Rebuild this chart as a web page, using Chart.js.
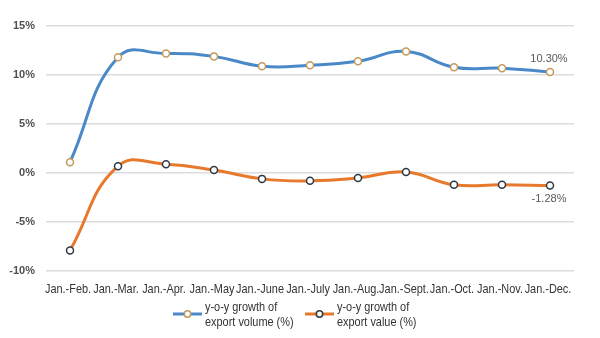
<!DOCTYPE html>
<html>
<head>
<meta charset="utf-8">
<script src="https://cdn.jsdelivr.net/npm/chart.js@4/dist/chart.umd.min.js"></script>
<style>
    html, body { margin: 0; padding: 0; background: #fff; }
    #wrap { width: 600px; height: 338px; position: relative; }
</style>
</head>
<body>
<div id="wrap"><canvas id="line-chart"></canvas></div>
<script>
const periods = ['Jan.-Feb.', 'Jan.-Mar.', 'Jan.-Apr.', 'Jan.-May', 'Jan.-June', 'Jan.-July',
    'Jan.-Aug.', 'Jan.-Sept.', 'Jan.-Oct.', 'Jan.-Nov.', 'Jan.-Dec.'];
const exportVolume = [1.1, 11.8, 12.2, 11.9, 10.9, 11.0, 11.4, 12.4, 10.8, 10.7, 10.30];
const exportValue = [-7.9, 0.7, 0.9, 0.3, -0.6, -0.8, -0.5, 0.1, -1.2, -1.2, -1.28];
const volumeLabel = ['y-o-y growth of', 'export volume (%)'];
const valueLabel = ['y-o-y growth of', 'export value (%)'];
const yTicks = [-10, -5, 0, 5, 10, 15];

const textColor = '#333333';
const font = '"Liberation Sans", Arial, sans-serif';
const squeeze = 0.84;

// no narrow face installed, so squeeze the regular one horizontally
function narrowText(ctx, text, x, y, align) {
    ctx.save();
    ctx.translate(x, y);
    ctx.scale(squeeze, 1);
    ctx.textAlign = align;
    ctx.fillText(text, 0, 0);
    ctx.restore();
}

// category names under the axis, placed at the scale's tick pixels
const categoryLabels = {
    id: 'categoryLabels',
    afterDraw(chart) {
        const ctx = chart.ctx;
        const xScale = chart.scales.x;
        ctx.save();
        ctx.font = '13px ' + font;
        ctx.fillStyle = textColor;
        ctx.textBaseline = 'middle';
        chart.data.labels.forEach((label, i) => {
            narrowText(ctx, label, xScale.getPixelForTick(i) - 2, chart.chartArea.bottom + 18, 'center');
        });
        ctx.restore();
    }
};

// last point of each series gets its value written next to it
const endLabels = {
    id: 'endLabels',
    afterDatasetsDraw(chart) {
        const ctx = chart.ctx;
        ctx.save();
        ctx.font = '11px ' + font;
        ctx.fillStyle = '#595959';
        ctx.textAlign = 'center';
        chart.data.datasets.forEach((ds, i) => {
            const meta = chart.getDatasetMeta(i);
            const last = meta.data[meta.data.length - 1];
            const v = ds.data[ds.data.length - 1];
            const above = i === 0;
            ctx.textBaseline = 'middle';
            ctx.fillText(v.toFixed(2) + '%', last.x - 1, above ? last.y - 13 : last.y + 13);
        });
        ctx.restore();
    }
};

// two-line legend entries under the axis
const bottomLegend = {
    id: 'bottomLegend',
    afterDraw(chart) {
        const ctx = chart.ctx;
        const items = [{ x: 173, ds: 0, text: volumeLabel }, { x: 305, ds: 1, text: valueLabel }];
        const y = 314;
        ctx.save();
        items.forEach(item => {
            const ds = chart.data.datasets[item.ds];
            ctx.strokeStyle = ds.borderColor;
            ctx.lineWidth = 3;
            ctx.beginPath();
            ctx.moveTo(item.x, y);
            ctx.lineTo(item.x + 29, y);
            ctx.stroke();
            ctx.fillStyle = '#fff';
            ctx.strokeStyle = ds.pointBorderColor;
            ctx.lineWidth = 1.5;
            ctx.beginPath();
            ctx.arc(item.x + 14.5, y, 3.2, 0, Math.PI * 2);
            ctx.fill();
            ctx.stroke();
            ctx.fillStyle = textColor;
            ctx.font = '13px ' + font;
            ctx.textBaseline = 'middle';
            narrowText(ctx, item.text[0], item.x + 32, y - 7, 'left');
            narrowText(ctx, item.text[1], item.x + 32, y + 8, 'left');
        });
        ctx.restore();
    }
};

new Chart(document.getElementById('line-chart'), {
    type: 'line',
    data: {
        labels: periods,
        datasets: [
            {
                label: volumeLabel.join(' '),
                data: exportVolume,
                borderColor: '#4a89c8',
                borderWidth: 3,
                tension: 0.45,
                pointRadius: 3.5,
                pointBackgroundColor: '#ffffff',
                pointBorderColor: '#c29a5c',
                pointBorderWidth: 1.5
            },
            {
                label: valueLabel.join(' '),
                data: exportValue,
                borderColor: '#e8792c',
                borderWidth: 3,
                tension: 0.45,
                pointRadius: 3.5,
                pointBackgroundColor: '#ffffff',
                pointBorderColor: '#2e3a48',
                pointBorderWidth: 1.5
            }
        ]
    },
    options: {
        responsive: true,
        maintainAspectRatio: false,
        animation: false,
        layout: { padding: { top: 26, right: 26, bottom: 0, left: 0 } },
        plugins: {
            legend: { display: false },
            tooltip: { enabled: false }
        },
        scales: {
            x: {
                offset: true,
                grid: { display: false },
                border: { display: false },
                ticks: { display: false },
                afterFit: scale => { scale.height = 67; }
            },
            y: {
                min: -10,
                max: 15,
                afterBuildTicks: scale => { scale.ticks = yTicks.map(v => ({ value: v })); },
                grid: { color: '#dcdcdc', lineWidth: 1.5, drawTicks: false },
                border: { display: false },
                ticks: {
                    color: '#505050',
                    font: { family: font, size: 11, weight: 'bold' },
                    padding: 11,
                    callback: v => v + '%'
                },
                afterFit: scale => { scale.width = 46; }
            }
        }
    },
    plugins: [categoryLabels, endLabels, bottomLegend]
});
</script>
</body>
</html>
